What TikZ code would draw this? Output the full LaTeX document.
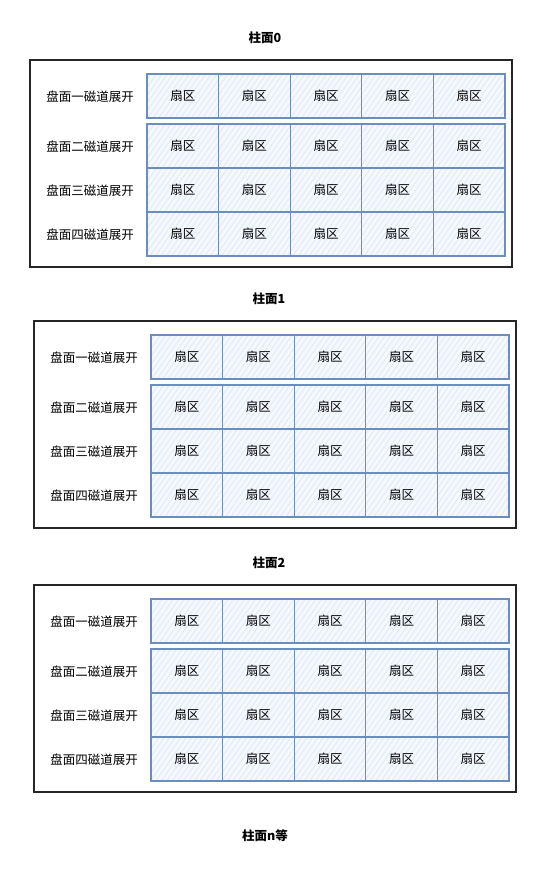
\documentclass[tikz,border=0pt]{standalone}
\usepackage{fontspec}
\setmainfont{Noto Sans CJK SC}
\usetikzlibrary{patterns.meta}
\definecolor{cellhatch}{HTML}{DAE8FC}
\definecolor{cellbg}{HTML}{F5F8FD}
\definecolor{celldraw}{HTML}{6C8EBF}
\tikzset{
  outerbox/.style={draw=black!85, line width=1.2pt, inner sep=0pt, outer sep=0pt, anchor=north west},
  cell/.style={draw=celldraw, line width=1.2pt, inner sep=0pt, outer sep=0pt,
    minimum width=71.6pt, minimum height=44pt,
    preaction={fill=cellbg},
    pattern={Lines[angle=55,distance=4.5pt,line width=0.7pt]}, pattern color=cellhatch,
    font=\fontsize{12.5pt}{14pt}\selectfont},
  rowlabel/.style={font=\fontsize{12.5pt}{14pt}\selectfont, inner sep=0pt},
  title/.style={font=\fontsize{12.5pt}{14pt}\selectfont\bfseries, inner sep=0pt}
}
\begin{document}
\begin{tikzpicture}[x=1pt, y=-1pt]
\useasboundingbox[fill=white] (0,0) rectangle (554,878);
\foreach \b/\ox/\oy/\t in {0/30/60/柱面0, 1/34/321/柱面1, 2/34/585/柱面2} {
  \node[title] (title\b) at ({\ox+235},{\oy-22}) {\t};
  \node[outerbox, minimum width=482pt, minimum height=207pt] (outer\b) at (\ox,\oy) {};
  \foreach \r/\ry/\lab in {1/14/盘面一磁道展开, 2/64/盘面二磁道展开, 3/108/盘面三磁道展开, 4/152/盘面四磁道展开} {
    \node[rowlabel] (lab\b-\r) at ({\ox+60},{\oy+\ry+22.5}) {\lab};
    \foreach \c in {0,...,4} {
      \node[cell] (s\b-\r-\c) at ({\ox+117+71.6*\c+35.8},{\oy+\ry+22}) {扇区};
    }
  }
}
\node[title] (titlen) at (265,836) {柱面n等};
\end{tikzpicture}
\end{document}
